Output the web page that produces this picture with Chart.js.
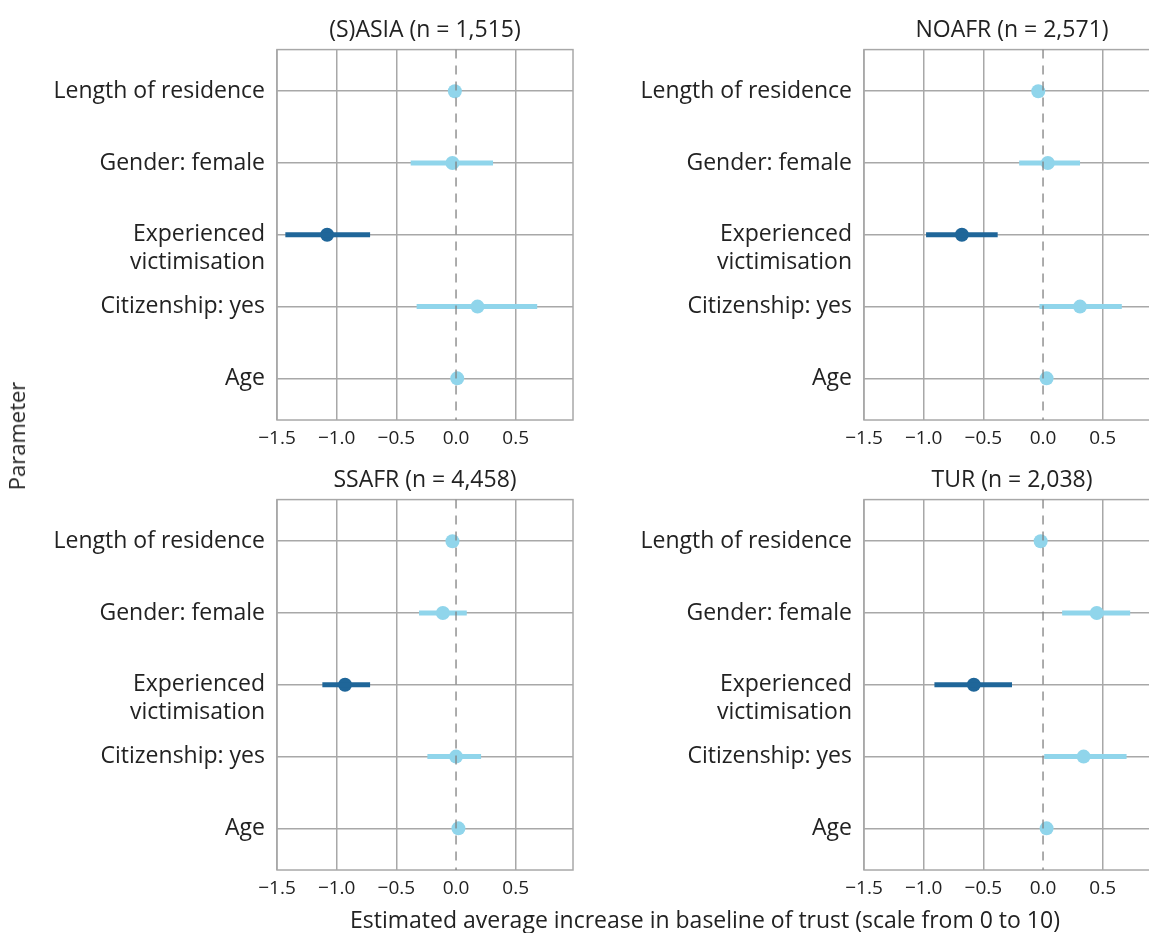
<!DOCTYPE html>
<html>
<head>
<meta charset="utf-8">
<script src="https://cdn.jsdelivr.net/npm/chart.js@4.4.0/dist/chart.umd.min.js"></script>
<style>
  html, body { margin: 0; padding: 0; background: #fff; overflow: hidden; }
  body { width: 1149px; height: 933px; position: relative; font-family: "Open Sans", sans-serif; color: #222; }
  .panel { position: absolute; width: 580px; height: 460px; }
  #ytitle { position: absolute; left: 16px; top: 436px; transform: translate(-50%, -50%) rotate(-90deg); font-size: 22px; white-space: nowrap; }
  #xtitle { position: absolute; left: 705px; top: 919px; transform: translate(-50%, -50%); font-size: 23px; white-space: nowrap; }
</style>
</head>
<body>
<div class="panel" style="left:0;top:0"><canvas id="c1"></canvas></div>
<div class="panel" style="left:587px;top:0"><canvas id="c2"></canvas></div>
<div class="panel" style="left:0;top:450px"><canvas id="c3"></canvas></div>
<div class="panel" style="left:587px;top:450px"><canvas id="c4"></canvas></div>
<div id="ytitle">Parameter</div>
<div id="xtitle">Estimated average increase in baseline of trust (scale from 0 to 10)</div>
<script>
// Parameters, top to bottom
var params = ["Length of residence", "Gender: female", "Experienced victimisation", "Citizenship: yes", "Age"];
var highlight = [false, false, true, false, false];
var xTicks = [-1.5, -1.0, -0.5, 0.0, 0.5];

// estimates and 95% intervals per region
var asiaEst = [-0.01, -0.03, -1.08, 0.18, 0.01];
var asiaLo  = [-0.03, -0.38, -1.43, -0.33, -0.01];
var asiaHi  = [0.01, 0.31, -0.72, 0.68, 0.03];

var noafrEst = [-0.04, 0.04, -0.68, 0.31, 0.03];
var noafrLo  = [-0.06, -0.20, -0.98, -0.03, 0.01];
var noafrHi  = [-0.02, 0.31, -0.38, 0.66, 0.05];

var ssafrEst = [-0.03, -0.11, -0.93, 0.00, 0.02];
var ssafrLo  = [-0.05, -0.31, -1.12, -0.24, 0.00];
var ssafrHi  = [-0.01, 0.09, -0.72, 0.21, 0.04];

var turEst = [-0.02, 0.45, -0.58, 0.34, 0.03];
var turLo  = [-0.04, 0.16, -0.91, 0.01, 0.01];
var turHi  = [0.00, 0.73, -0.26, 0.70, 0.05];

var LIGHT = "#90d5eb";
var DARK = "#1f6699";
var GRID = "#a8a8a8";
var FONT = "'Open Sans', sans-serif";

var framePlugin = {
  id: 'frame',
  beforeDatasetsDraw: function(chart) {
    var a = chart.chartArea, ctx = chart.ctx;
    ctx.save();
    ctx.strokeStyle = GRID;
    ctx.lineWidth = 1.5;
    ctx.strokeRect(a.left, a.top, a.right - a.left, a.bottom - a.top);
    ctx.restore();
  }
};

function makeChart(id, title, est, lo, hi) {
  var datasets = [];
  // dashed zero line
  datasets.push({
    type: 'line',
    data: [{x: 0, y: -0.58}, {x: 0, y: 4.58}],
    borderColor: '#808080',
    borderWidth: 1.3,
    borderDash: [9, 7],
    pointRadius: 0
  });
  for (var i = 0; i < params.length; i++) {
    datasets.push({
      type: 'line',
      data: [{x: lo[i], y: i}, {x: hi[i], y: i}],
      borderColor: highlight[i] ? DARK : LIGHT,
      borderWidth: 5,
      borderCapStyle: 'butt',
      pointRadius: 0
    });
  }
  datasets.push({
    type: 'scatter',
    data: est.map(function(v, i) { return {x: v, y: i}; }),
    backgroundColor: highlight.map(function(h) { return h ? DARK : LIGHT; }),
    borderWidth: 0,
    pointRadius: 7
  });

  return new Chart(document.getElementById(id), {
    type: 'scatter',
    data: { datasets: datasets },
    plugins: [framePlugin],
    options: {
      responsive: true,
      maintainAspectRatio: false,
      animation: false,
      layout: { padding: { right: 7 } },
      plugins: {
        legend: { display: false },
        tooltip: { enabled: false },
        title: {
          display: true,
          text: title,
          fullSize: false,
          color: '#222',
          font: { family: FONT, size: 23, weight: 'normal' },
          padding: { top: 17, bottom: 5 }
        }
      },
      scales: {
        x: {
          type: 'linear',
          min: -1.5,
          max: 0.98,
          afterBuildTicks: function(s) { s.ticks = xTicks.map(function(v) { return {value: v}; }); },
          afterFit: function(s) { s.height = 40; },
          grid: {
            color: function(c) { return c.tick && c.tick.value === 0 ? 'rgba(0,0,0,0)' : GRID; },
            lineWidth: 1.5,
            drawTicks: false
          },
          border: { display: false },
          ticks: {
            color: '#222',
            padding: 7,
            maxRotation: 0,
            font: { family: FONT, size: 19 },
            callback: function(v) { return (v < 0 ? '\u2212' : '') + Math.abs(v).toFixed(1); }
          }
        },
        y: {
          type: 'linear',
          reverse: true,
          min: -0.58,
          max: 4.58,
          afterBuildTicks: function(s) { s.ticks = params.map(function(p, i) { return {value: i}; }); },
          afterFit: function(s) { s.width = 277; },
          grid: { color: GRID, lineWidth: 1.5, drawTicks: false },
          border: { display: false },
          ticks: {
            color: '#222',
            padding: 12,
            font: { family: FONT, size: 23, lineHeight: 1.22 },
            callback: function(v) {
              if (v === 2) return ['', 'Experienced', 'victimisation'];
              return params[v];
            }
          }
        }
      }
    }
  });
}

makeChart('c1', '(S)ASIA (n = 1,515)', asiaEst, asiaLo, asiaHi);
makeChart('c2', 'NOAFR (n = 2,571)', noafrEst, noafrLo, noafrHi);
makeChart('c3', 'SSAFR (n = 4,458)', ssafrEst, ssafrLo, ssafrHi);
makeChart('c4', 'TUR (n = 2,038)', turEst, turLo, turHi);
</script>
</body>
</html>
